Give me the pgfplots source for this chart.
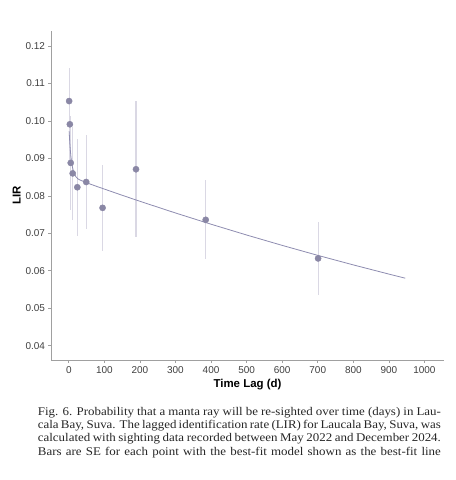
\documentclass[border=0pt]{standalone}
\usepackage{pgfplots}
\pgfplotsset{compat=1.18}
\usepackage{pgfplotstable}
\usepackage{fontspec}
\setmainfont{Liberation Serif}
\newfontfamily\capf[FakeStretch=1.1]{Liberation Serif}
\newfontfamily\sansf{Liberation Sans}
\definecolor{ptcol}{HTML}{8A87A5}
\definecolor{lncol}{HTML}{8E8CB0}
\definecolor{barcol}{HTML}{DAD8E4}
\definecolor{spine}{HTML}{A0A0A0}
\definecolor{ticktxt}{HTML}{404040}
\pgfplotstableread{
x y e
1 0.1053 0.0089
3 0.0991 0.0110
5.5 0.0888 0.0125
11 0.0860 0.0125
24 0.0823 0.0130
49 0.0837 0.0126
95 0.0768 0.0114
189 0.0871 0.0182
385 0.0736 0.0105
701 0.0633 0.0097
}\pts
\pgfplotstableread{
x y
1 0.0972
2 0.0955
3 0.0939
4 0.0926
5 0.0915
6 0.0905
8 0.0890
10 0.0878
13 0.0866
16 0.0858
20 0.0851
25 0.0846
30 0.0843
40 0.0839
50 0.0835
75 0.08264
100 0.08181
150 0.08016
200 0.07855
300 0.07543
400 0.07243
500 0.06955
600 0.06678
700 0.06412
800 0.06157
900 0.05912
946 0.05803
}\fit
\begin{document}
\begin{tikzpicture}
\begin{axis}[
  scale only axis, width=393bp, height=329.7bp,
  xmin=-50, xmax=1055, ymin=0.036, ymax=0.124,
  axis x line=bottom, axis y line=left,
  axis line style={-, spine, line width=0.9bp},
  tick align=outside, major tick length=2.5bp,
  tick style={spine, line width=0.6bp},
  xtick={0,100,...,1000},
  ytick={0.04,0.05,...,0.12},
  /pgf/number format/assume math mode=true,
  yticklabel style={/pgf/number format/fixed, /pgf/number format/fixed zerofill, /pgf/number format/precision=2},
  xticklabel style={/pgf/number format/1000 sep={}},
  ticklabel style={font=\sansf\fontsize{10}{12}\selectfont, text=ticktxt},
  scaled y ticks=false,
  xlabel={Time Lag (d)}, ylabel={LIR},
  xlabel style={font=\sansf\bfseries\fontsize{11.5}{13}\selectfont, at={(axis description cs:0.5,-0.0737)}, anchor=center},
  ylabel style={font=\sansf\bfseries\fontsize{11.5}{13}\selectfont, at={(axis description cs:-0.0873,0.5026)}, anchor=center, rotate=0},
  clip=false,
]
\addplot[only marks, mark=none, error bars/.cd, y dir=both, y explicit, error mark=none,
  error bar style={color=barcol, line width=1.1bp}] table[x=x, y=y, y error=e] {\pts};
\addplot[lncol, line width=0.8bp, mark=none] table[x=x, y=y] {\fit};
\addplot[only marks, mark=*, mark size=3.1bp, mark options={fill=ptcol, draw=ptcol}] table[x=x, y=y] {\pts};
\end{axis}
\path[use as bounding box] (-51bp,-119.3bp) rectangle (405bp,360.7bp);
\begin{scope}[every node/.style={anchor=base west, inner sep=0pt, font=\capf\fontsize{11.8}{13}\selectfont, text=black!85}]
\node at (-13.3bp,-54.3bp) {\makebox[403bp][s]{Fig. 6. Probability that a manta ray will be re-sighted over time (days) in Lau-}};
\node at (-13.3bp,-67.7bp) {\makebox[403bp][s]{cala Bay, Suva. The lagged identification rate (LIR) for Laucala Bay, Suva, was}};
\node at (-13.3bp,-81.0bp) {\makebox[403bp][s]{calculated with sighting data recorded between May 2022 and December 2024.}};
\node at (-13.3bp,-94.4bp) {\makebox[403bp][s]{Bars are SE for each point with the best-fit model shown as the best-fit line}};
\end{scope}
\end{tikzpicture}
\end{document}
